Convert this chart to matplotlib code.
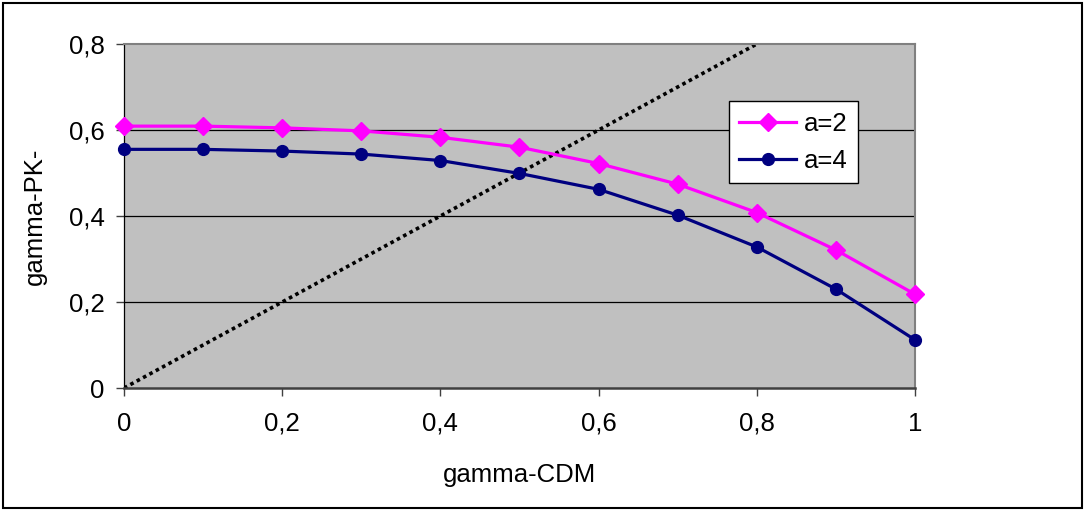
import matplotlib
matplotlib.use("Agg")
import matplotlib.pyplot as plt
from matplotlib.patches import Rectangle

# =====================================================
# DATA
# =====================================================

gamma_cdm = [0, 0.1, 0.2, 0.3, 0.4, 0.5, 0.6, 0.7, 0.8, 0.9, 1.0]
pk_a2 = [0.609, 0.609, 0.605, 0.598, 0.583, 0.560, 0.522, 0.474, 0.408, 0.321, 0.218]
pk_a4 = [0.555, 0.555, 0.551, 0.544, 0.529, 0.499, 0.462, 0.402, 0.328, 0.230, 0.112]
diag_x = [0, 0.8]
diag_y = [0, 0.8]

x_ticks = [0, 0.2, 0.4, 0.6, 0.8, 1.0]
x_tick_labels = ["0", "0,2", "0,4", "0,6", "0,8", "1"]
y_ticks = [0, 0.2, 0.4, 0.6, 0.8]
y_tick_labels = ["0", "0,2", "0,4", "0,6", "0,8"]

# =====================================================
# PLOT
# =====================================================

plt.rcParams["font.family"] = ["Liberation Sans", "DejaVu Sans"]
FS = 18.5

fig = plt.figure(figsize=(10.85, 5.11), dpi=100)
ax = fig.add_axes([0.1143, 0.2407, 0.729, 0.6732])
ax.set_facecolor("#C0C0C0")

for y in [0.2, 0.4, 0.6]:
    ax.axhline(y, color="black", linewidth=0.9, zorder=1)

ax.plot(diag_x, diag_y, color="black", linestyle=(0, (1, 1)), linewidth=2.6, zorder=2)
ax.plot(gamma_cdm, pk_a2, color="#FF00FF", linewidth=2.3, marker="D",
        markersize=9, label="a=2", zorder=3, clip_on=False)
ax.plot(gamma_cdm, pk_a4, color="#000080", linewidth=2.3, marker="o",
        markersize=8.5, label="a=4", zorder=4, clip_on=False)

ax.set_xlim(0, 1)
ax.set_ylim(0, 0.8)
ax.set_xticks(x_ticks)
ax.set_xticklabels(x_tick_labels)
ax.set_yticks(y_ticks)
ax.set_yticklabels(y_tick_labels)
ax.tick_params(axis="both", labelsize=FS, length=6, width=1, color="#404040")
ax.tick_params(axis="x", pad=11)
ax.tick_params(axis="y", pad=8)

ax.spines["left"].set_color("black")
ax.spines["left"].set_linewidth(0.9)
ax.spines["bottom"].set_color("#404040")
ax.spines["bottom"].set_linewidth(1.8)
ax.spines["top"].set_color("#808080")
ax.spines["top"].set_linewidth(1.5)
ax.spines["right"].set_color("#808080")
ax.spines["right"].set_linewidth(1.5)

ax.set_xlabel("gamma-CDM", fontsize=FS, labelpad=20)
ax.set_ylabel("gamma-PK-", fontsize=FS, labelpad=16)

leg = ax.legend(loc="upper left", bbox_to_anchor=(0.765, 0.833), fontsize=FS,
                frameon=True, fancybox=False, framealpha=1, edgecolor="black",
                handlelength=2.2, handletextpad=0.3, borderpad=0.4,
                labelspacing=0.5, borderaxespad=0)
leg.get_frame().set_linewidth(1.0)

# outer frame around the whole chart
fig.patches.append(Rectangle((0.003, 0.005), 0.994, 0.99, transform=fig.transFigure,
                             fill=False, edgecolor="black", linewidth=1.5))

plt.savefig("out.png", dpi=100)
